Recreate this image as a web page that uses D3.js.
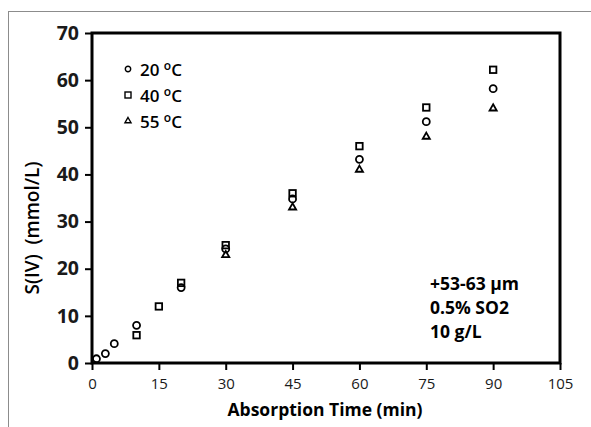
<!DOCTYPE html>
<html>
<head>
<meta charset="utf-8">
<script src="https://cdn.jsdelivr.net/npm/d3@7"></script>
<style>
  body { margin: 0; background: #fff; }
  text { font-family: "Open Sans", "Noto Sans", sans-serif; }
</style>
</head>
<body>
<div id="chart"></div>
<script>
// data
const t20 = [1, 3, 5, 10, 20, 30, 45, 60, 75, 90];
const s20 = [0.9, 2, 4.1, 8, 16, 24.2, 34.8, 43.2, 51.2, 58.2];
const t40 = [10, 15, 20, 30, 45, 60, 75, 90];
const s40 = [5.9, 12, 17, 25, 36, 46, 54.2, 62.2];
const t55 = [30, 45, 60, 75, 90];
const s55 = [22.9, 33, 41, 48, 54];
const xTicks = [0, 15, 30, 45, 60, 75, 90, 105];
const yTicks = [0, 10, 20, 30, 40, 50, 60, 70];
const legendLabels = ['20 ', '40 ', '55 '];
const noteLines = ['+53-63 µm', '0.5% SO2', '10 g/L'];

const width = 591, height = 427;
const margin = { top: 33, right: 31, bottom: 64, left: 92 };
const w = width - margin.left - margin.right;
const h = height - margin.top - margin.bottom;

const root = d3.select('#chart').append('svg')
    .attr('width', width)
    .attr('height', height);

// grey outer frame (cut off on the right and bottom)
root.append('rect')
    .attr('x', 8.5).attr('y', 11.5)
    .attr('width', 600).attr('height', 430)
    .attr('fill', 'none').attr('stroke', '#8c8c8c').attr('stroke-width', 1);

const svg = root.append('g').attr('transform', `translate(${margin.left},${margin.top})`);

const x = d3.scaleLinear().domain([0, 105]).range([0, w]);
const y = d3.scaleLinear().domain([0, 70]).range([h, 0]);

// plot box
svg.append('rect')
    .attr('x', 0).attr('y', 0).attr('width', w).attr('height', h)
    .attr('fill', 'none').attr('stroke', '#000').attr('stroke-width', 3);

// x axis
const xAxis = svg.append('g').attr('transform', `translate(0,${h})`)
    .call(d3.axisBottom(x).tickValues(xTicks).tickSize(7).tickSizeOuter(0).tickPadding(8));
xAxis.select('.domain').remove();
xAxis.selectAll('line').attr('stroke-width', 2);
xAxis.selectAll('text').style('font-size', '15px').attr('fill', '#1a1a1a');

// y axis
const yAxis = svg.append('g')
    .call(d3.axisLeft(y).tickValues(yTicks).tickSize(7).tickSizeOuter(0).tickPadding(6));
yAxis.select('.domain').remove();
yAxis.selectAll('line').attr('stroke-width', 2);
yAxis.selectAll('text').style('font-size', '19.5px').style('font-weight', 'bold').attr('fill', '#1a1a1a');

// axis titles
svg.append('text')
    .attr('x', w / 2 - 1).attr('y', h + 53)
    .attr('text-anchor', 'middle')
    .style('font-size', '17.5px').style('font-weight', 'bold')
    .text('Absorption Time (min)');

svg.append('text')
    .attr('transform', `translate(-53,${h / 2 + 30}) rotate(-90)`)
    .attr('text-anchor', 'middle')
    .style('font-size', '19px').style('font-weight', '600')
    .style('white-space', 'pre')
    .text('S(IV)  (mmol/L)');

// markers
const markStroke = 1.8;
function circles(g, xs, ys, r) {
    g.selectAll(null).data(xs).enter().append('circle')
        .attr('cx', (d) => x(d)).attr('cy', (_, i) => y(ys[i])).attr('r', r)
        .attr('fill', 'none').attr('stroke', '#000').attr('stroke-width', markStroke);
}
function squares(g, xs, ys, s) {
    g.selectAll(null).data(xs).enter().append('rect')
        .attr('x', (d) => x(d) - s / 2).attr('y', (_, i) => y(ys[i]) - s / 2)
        .attr('width', s).attr('height', s)
        .attr('fill', 'none').attr('stroke', '#000').attr('stroke-width', markStroke);
}
function triangles(g, xs, ys, s) {
    const tri = d3.symbol().type(d3.symbolTriangle).size(s);
    g.selectAll(null).data(xs).enter().append('path')
        .attr('d', tri)
        .attr('transform', (d, i) => `translate(${x(d)},${y(ys[i])})`)
        .attr('fill', 'none').attr('stroke', '#000').attr('stroke-width', markStroke);
}

const marks = svg.append('g');
circles(marks, t20, s20, 3.5);
squares(marks, t40, s40, 6.5);
triangles(marks, t55, s55, 22);

// legend
const legend = svg.append('g').attr('transform', 'translate(36,36)');
const rowGap = 26;
legend.append('circle').attr('cx', 0).attr('cy', 0).attr('r', 2.7)
    .attr('fill', 'none').attr('stroke', '#000').attr('stroke-width', 1.4);
legend.append('rect').attr('x', -3).attr('y', rowGap - 3).attr('width', 6).attr('height', 6)
    .attr('fill', 'none').attr('stroke', '#000').attr('stroke-width', 1.4);
legend.append('path').attr('d', d3.symbol().type(d3.symbolTriangle).size(16))
    .attr('transform', `translate(0,${rowGap * 2})`)
    .attr('fill', 'none').attr('stroke', '#000').attr('stroke-width', 1.4);

legendLabels.forEach((lab, i) => {
    const tx = legend.append('text')
        .attr('x', 12).attr('y', i * rowGap + 7)
        .style('font-size', '17px').style('font-weight', '600');
    tx.append('tspan').text(lab);
    tx.append('tspan').attr('dy', -6).style('font-size', '12px').text('o');
    tx.append('tspan').attr('dy', 6).text('C');
});

// note text
noteLines.forEach((line, i) => {
    svg.append('text')
        .attr('x', 338).attr('y', 257 + i * 24)
        .style('font-size', '17.5px').style('font-weight', 'bold')
        .text(line);
});
</script>
</body>
</html>
